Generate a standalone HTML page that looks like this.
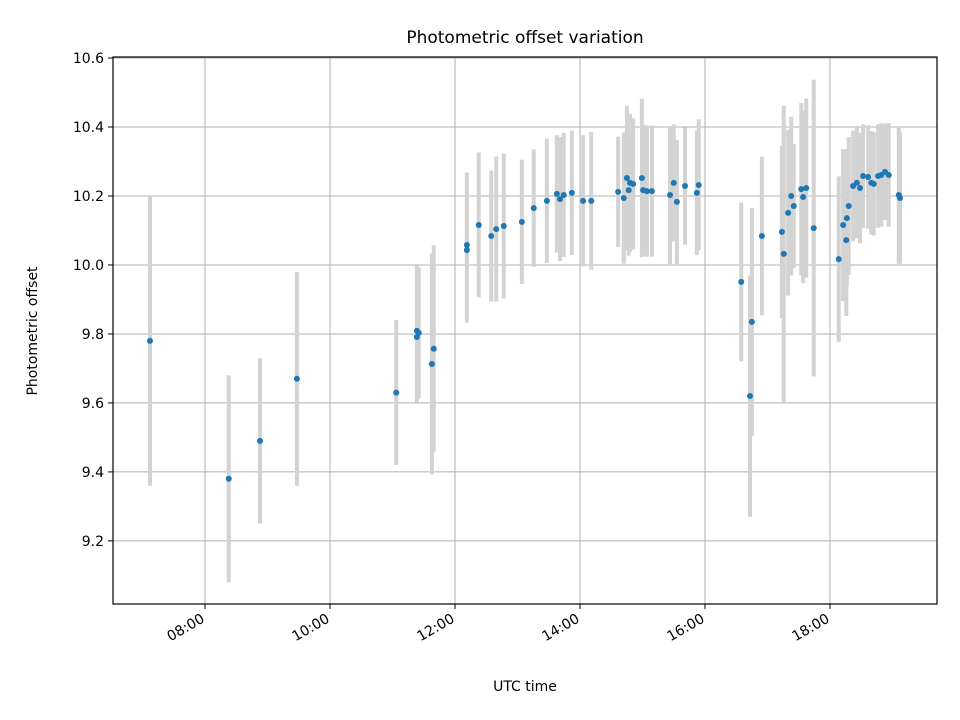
<!DOCTYPE html>
<html><head><meta charset="utf-8"><style>
html,body{margin:0;padding:0;background:#fff;}
svg{display:block;font-family:"DejaVu Sans","Liberation Sans",sans-serif;}
</style></head><body>
<svg id="chart" width="960" height="720" xmlns="http://www.w3.org/2000/svg">
<rect width="960" height="720" fill="#fff"/>
<text x="525" y="43" font-size="17" text-anchor="middle">Photometric offset variation</text>
<text x="525" y="691" font-size="14" text-anchor="middle">UTC time</text>
<text x="37" y="331" font-size="14" text-anchor="middle" transform="rotate(-90 37 331)">Photometric offset</text>
<g id="grid"></g>
<g id="errs"></g>
<g id="pts"></g>
<g id="axes"></g>
</svg>
<script>
const times = [7.12,8.38,8.88,9.47,11.06,11.39,11.39,11.42,11.63,11.66,12.19,12.19,12.38,12.58,12.66,12.78,13.07,13.26,13.47,13.63,13.68,13.74,13.87,14.05,14.18,14.61,14.70,14.75,14.78,14.80,14.85,14.99,15.01,15.07,15.15,15.44,15.50,15.55,15.68,15.87,15.90,16.58,16.72,16.75,16.91,17.23,17.26,17.33,17.38,17.42,17.54,17.57,17.62,17.74,18.14,18.26,18.21,18.27,18.30,18.37,18.43,18.48,18.53,18.61,18.66,18.70,18.77,18.82,18.88,18.94,19.10,19.12];
const offsets = [9.780,9.380,9.490,9.670,9.630,9.809,9.791,9.803,9.713,9.757,10.058,10.043,10.116,10.084,10.104,10.113,10.125,10.165,10.186,10.206,10.191,10.203,10.209,10.186,10.186,10.212,10.194,10.252,10.217,10.238,10.235,10.252,10.217,10.214,10.214,10.203,10.238,10.183,10.229,10.209,10.232,9.951,9.620,9.835,10.084,10.096,10.032,10.151,10.200,10.171,10.220,10.197,10.223,10.107,10.017,10.072,10.116,10.136,10.171,10.229,10.238,10.223,10.258,10.255,10.238,10.235,10.258,10.261,10.270,10.261,10.203,10.194];
const errors = [0.42,0.30,0.24,0.31,0.21,0.19,0.19,0.19,0.32,0.30,0.21,0.21,0.21,0.19,0.21,0.21,0.18,0.17,0.18,0.17,0.18,0.18,0.18,0.19,0.20,0.16,0.19,0.21,0.19,0.20,0.19,0.23,0.19,0.19,0.19,0.20,0.17,0.18,0.17,0.18,0.19,0.23,0.35,0.33,0.23,0.25,0.43,0.24,0.23,0.18,0.25,0.25,0.26,0.43,0.24,0.22,0.22,0.20,0.20,0.16,0.16,0.16,0.15,0.15,0.15,0.15,0.15,0.15,0.14,0.15,0.20,0.19];
const xTicks = [8,10,12,14,16,18];
const xTickLabels = ["08:00","10:00","12:00","14:00","16:00","18:00"];
const yTicks = [9.2,9.4,9.6,9.8,10.0,10.2,10.4,10.6];
const yTickLabels = ["9.2","9.4","9.6","9.8","10.0","10.2","10.4","10.6"];

const L=113,R=937,T=57,B=604;
const xMin=6.528,xMax=19.712,yMin=9.017,yMax=10.603;
const xs=h=>L+(h-xMin)/(xMax-xMin)*(R-L);
const ys=v=>B-(v-yMin)/(yMax-yMin)*(B-T);
const NS="http://www.w3.org/2000/svg";
function mk(tag,attrs,parent){const e=document.createElementNS(NS,tag);for(const k in attrs)e.setAttribute(k,attrs[k]);parent.appendChild(e);return e;}
const grid=document.getElementById('grid'),errs=document.getElementById('errs'),pts=document.getElementById('pts'),axes=document.getElementById('axes');

xTicks.forEach((t,i)=>{
  const x=xs(t);
  const g=mk('line',{x1:x,x2:x,y1:T,y2:B,stroke:'#b0b0b0','stroke-width':1},grid);
  
  
  const tk=mk('line',{x1:x,x2:x,y1:B,y2:B+5,stroke:'#000','stroke-width':1},axes);
  
  
  const tx=mk('text',{x:x-2,y:B+18,'font-size':14,'text-anchor':'end',transform:`rotate(-30 ${x-2} ${B+13})`},axes);
  tx.textContent=xTickLabels[i];
  
  
});
yTicks.forEach((t,i)=>{
  const y=ys(t);
  const g=mk('line',{x1:L,x2:R,y1:y,y2:y,stroke:'#b0b0b0','stroke-width':1},grid);
  
  
  const tk=mk('line',{x1:L-5,x2:L,y1:y,y2:y,stroke:'#000','stroke-width':1},axes);
  
  
  const tx=mk('text',{x:L-9,y:y+5,'font-size':14,'text-anchor':'end'},axes);
  tx.textContent=yTickLabels[i];
  
  
});
times.forEach((t,i)=>{
  const x=xs(t);
  const e=mk('line',{x1:x,x2:x,y1:ys(offsets[i]+errors[i]),y2:ys(offsets[i]-errors[i]),stroke:'#d3d3d3','stroke-width':4},errs);
  
  
});
times.forEach((t,i)=>{
  const c=mk('circle',{cx:xs(t),cy:ys(offsets[i]),r:3,fill:'#1f77b4'},pts);
  
  
});
const frame=mk('rect',{x:L,y:T,width:R-L,height:B-T,fill:'none',stroke:'#000','stroke-width':1.2},axes);


</script>
</body></html>
